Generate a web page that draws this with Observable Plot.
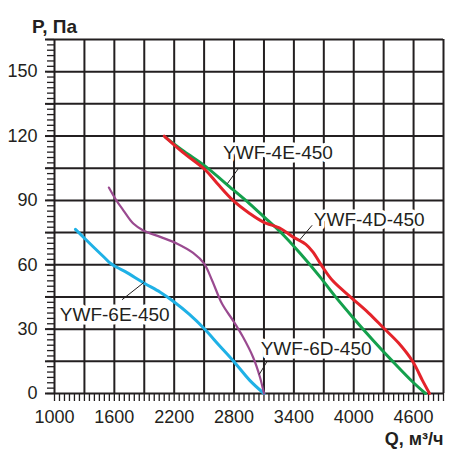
<!DOCTYPE html>
<html>
<head>
<meta charset="utf-8">
<script src="https://cdn.jsdelivr.net/npm/d3@7"></script>
<script src="https://cdn.jsdelivr.net/npm/@observablehq/plot@0.6"></script>
<style>
  html, body { margin: 0; padding: 0; background: #fff; }
</style>
</head>
<body>
<div id="chart"></div>
<script>
// Tick values
const xGrid = d3.range(1000, 4901, 300);
const xMinor = d3.range(1000, 4901, 50);
const xLabels = [1000, 1600, 2200, 2800, 3400, 4000, 4600];
const yGrid = d3.range(0, 166, 15);
const yMinor = d3.range(0, 165.01, 2.5);
const yLabels = [0, 30, 60, 90, 120, 150];

// Series: [Q, P]
const ywf6e = [[1210,76.5],[1390,68.3],[1500,63.4],[1560,60.7],[1630,58.7],[1710,56.8],[1900,51.4],[2060,47.2],[2190,43],[2350,37],[2500,30.3],[2650,22.5],[2800,14.8],[2960,6],[3100,0]];
const ywf6d = [[1545,96],[1620,90],[1690,85.4],[1790,79.2],[1890,76],[2060,73],[2230,69.8],[2390,65.5],[2500,60.5],[2580,52.7],[2680,41.8],[2790,34],[2890,26.3],[2990,17],[3060,7.6],[3100,0]];
const ywf4e = [[2110,119.5],[2300,112.8],[2510,106],[2790,95],[2960,88.3],[3130,81],[3260,75.5],[3460,65.5],[3660,54.5],[3810,45.5],[4000,35],[4200,24.5],[4400,14.5],[4600,5],[4720,0]];
const ywf4d = [[2100,120],[2290,112.3],[2510,104.3],[2630,98],[2790,90],[2960,83.8],[3090,80],[3270,76.8],[3390,73],[3520,69.5],[3590,66],[3680,59.5],[3790,52.5],[3980,44.5],[4150,37.5],[4300,30.5],[4450,23.5],[4590,15],[4690,6],[4760,0]];

// Annotations (data coordinates)
const labelNames = ["YWF-4E-450", "YWF-4D-450", "YWF-6E-450", "YWF-6D-450"];
const labelAt = [[2690,112.2],[3600,81.1],[1053,36.8],[3067,20.9]];
const leaderFrom = [[2843,104.8],[3583,78.4],[1677,43.7],[3133,15.1]];
const leaderTo = [[2733,97.8],[3460,71.7],[1900,51.9],[3053,8.9]];

const labels = labelNames.map((name, i) => ({name, q: labelAt[i][0], p: labelAt[i][1]}));
const leaders = leaderFrom.map((f, i) => ({x1: f[0], y1: f[1], x2: leaderTo[i][0], y2: leaderTo[i][1]}));

const ink = "#231f20";
const blank = () => "";

const chart = Plot.plot({
  width: 474,
  height: 463,
  marginLeft: 54,
  marginRight: 31,
  marginTop: 39,
  marginBottom: 70,
  style: {fontFamily: "'Liberation Sans', Arial, sans-serif", color: ink, background: "#fff"},
  x: {domain: [1000, 4900]},
  y: {domain: [0, 165]},
  marks: [
    Plot.axisY(yMinor, {tickSize: 7, tickFormat: blank, stroke: ink, strokeWidth: 1.3, label: null}),
    Plot.axisY(yGrid, {tickSize: 9, tickFormat: blank, stroke: ink, strokeWidth: 2, label: null}),
    Plot.axisX(xMinor, {tickSize: 8, tickFormat: blank, stroke: ink, strokeWidth: 1.3, label: null}),
    Plot.text(yLabels, {y: d => d, frameAnchor: "left", dx: -17, textAnchor: "end", lineAnchor: "middle", fontSize: 18, fill: ink, text: d => String(d)}),
    Plot.text(xLabels, {x: d => d, frameAnchor: "bottom", dy: 17, textAnchor: "middle", lineAnchor: "top", fontSize: 18, fill: ink, text: d => String(d)}),
    Plot.ruleX(xGrid, {stroke: ink, strokeWidth: 2}),
    Plot.ruleY(yGrid, {stroke: ink, strokeWidth: 2}),
    Plot.text(labels, {x: "q", y: "p", text: "name", textAnchor: "start", lineAnchor: "middle", fontSize: 19, fill: ink, stroke: "white", strokeWidth: 7}),
    Plot.line(ywf6e, {x: d => d[0], y: d => d[1], stroke: "#1fb1e6", strokeWidth: 3, curve: "catmull-rom"}),
    Plot.line(ywf6d, {x: d => d[0], y: d => d[1], stroke: "#9a4a90", strokeWidth: 2.2, curve: "catmull-rom"}),
    Plot.line(ywf4e, {x: d => d[0], y: d => d[1], stroke: "#14a04c", strokeWidth: 3, curve: "catmull-rom"}),
    Plot.line(ywf4d, {x: d => d[0], y: d => d[1], stroke: "#e4232a", strokeWidth: 3, curve: "catmull-rom"}),
    Plot.link(leaders, {x1: "x1", y1: "y1", x2: "x2", y2: "y2", stroke: ink, strokeWidth: 1}),
    Plot.text(["P, Па"], {frameAnchor: "top-left", textAnchor: "middle", lineAnchor: "middle", dy: -13, fontSize: 19, fontWeight: "bold", fill: ink}),
    Plot.text(["Q, м³/ч"], {frameAnchor: "bottom-right", textAnchor: "end", lineAnchor: "middle", dy: 46, fontSize: 18, fontWeight: "bold", fill: ink})
  ]
});
document.getElementById("chart").appendChild(chart);
</script>
</body>
</html>
